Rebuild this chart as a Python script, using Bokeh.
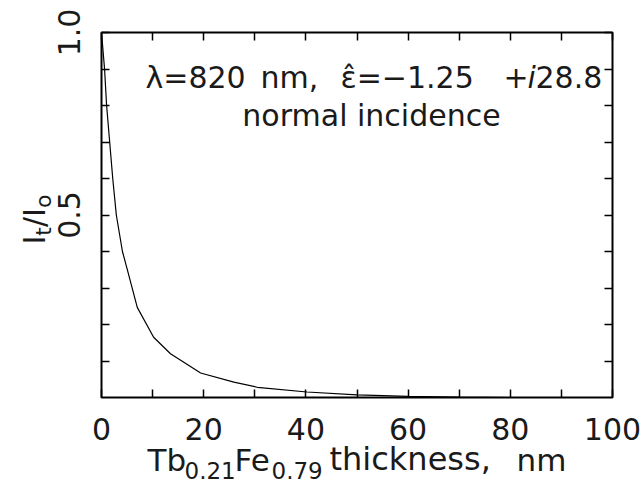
import math
from bokeh.plotting import figure
from bokeh.models import Range1d, LinearAxis, FixedTicker, Label
from bokeh.core.properties import value
from bokeh.embed import file_html
from bokeh.resources import INLINE

# ---- data ----
thickness_nm = [0, 0.6, 1.0, 1.6, 2.2, 2.9, 4.1, 5.0, 7.0, 10.2, 13.5, 19.4,
                25.9, 30.5, 40.2, 50.0, 60.0, 70.0, 80.0, 90.0, 100.0]
transmission = [1.0, 0.9, 0.8, 0.7, 0.6, 0.5, 0.4, 0.353, 0.247, 0.165, 0.12,
                0.067, 0.042, 0.028, 0.015, 0.007, 0.003, 0.001, 0.0, 0.0, 0.0]

x_major_ticks = [0, 20, 40, 60, 80, 100]
x_tick_labels = ["0", "20", "40", "60", "80", "100"]
x_minor_ticks = [10, 30, 50, 70, 90]
y_major_ticks = [0.5, 1.0]
y_tick_labels = ["0.5", "1.0"]
y_minor_ticks = [0.1, 0.2, 0.3, 0.4, 0.6, 0.7, 0.8, 0.9]

FONT = "DejaVu Sans"
INK = "#1a1a1a"
BASE_FIX = 0.345     # em offset between requested and drawn baseline

# page geometry (pixels)
W, H = 641, 484
FX0, FX1, FY0, FY1 = 101, 612, 32, 397   # frame box


def dx(px):
    return (px - FX0) / (FX1 - FX0) * 100.0


def dy(py):
    return (FY1 - py) / (FY1 - FY0)


p = figure(width=W, height=H, x_range=Range1d(0, 100), y_range=Range1d(0, 1),
           output_backend="svg", toolbar_location=None, title=None,
           min_border_left=FX0, min_border_right=W - FX1,
           min_border_top=FY0, min_border_bottom=H - FY1)
p.xgrid.visible = False
p.ygrid.visible = False
p.outline_line_color = "black"
p.outline_line_width = 2
p.background_fill_color = "white"
p.border_fill_color = "white"


def style_axis(ax, labels):
    ax.axis_line_color = None
    ax.major_tick_in = 8
    ax.major_tick_out = 0
    ax.minor_tick_in = 8
    ax.minor_tick_out = 0
    ax.major_tick_line_color = "black"
    ax.minor_tick_line_color = "black"
    ax.major_tick_line_width = 1.5
    ax.minor_tick_line_width = 1.5
    ax.major_label_text_font = FONT
    ax.major_label_text_color = INK
    if labels:
        ax.major_label_text_font_size = "30px"
    else:
        ax.major_label_text_font_size = "1px"
        ax.major_label_text_alpha = 0
        ax.major_label_standoff = 0


p.xaxis.ticker = FixedTicker(ticks=x_major_ticks, minor_ticks=x_minor_ticks)
p.yaxis.ticker = FixedTicker(ticks=y_major_ticks, minor_ticks=y_minor_ticks)
p.xaxis.major_label_overrides = dict(zip(x_major_ticks, x_tick_labels))
p.yaxis.major_label_overrides = dict(zip(y_major_ticks, y_tick_labels))
for ax in p.xaxis:
    style_axis(ax, True)
    ax.major_label_standoff = 20
for ax in p.yaxis:
    style_axis(ax, True)
    ax.major_label_orientation = "vertical"
    ax.major_label_standoff = 22

top = LinearAxis(ticker=FixedTicker(ticks=x_major_ticks, minor_ticks=x_minor_ticks))
style_axis(top, False)
p.add_layout(top, "above")
right = LinearAxis(ticker=FixedTicker(ticks=y_major_ticks, minor_ticks=y_minor_ticks))
style_axis(right, False)
p.add_layout(right, "right")

p.line(thickness_nm, transmission, line_color="black", line_width=1.2)


def piece(text, px, py, size, italic=False, align="left"):
    p.add_layout(Label(x=dx(px), y=dy(py - BASE_FIX * size), text=text,
                       text_font=FONT, text_font_size=f"{size}px",
                       text_color=INK,
                       text_font_style="italic" if italic else "normal",
                       text_align=align, text_baseline="alphabetic"))


# annotation line 1 : λ=820 nm, ε̂=−1.25 +i28.8   (baseline at page row 87)
piece("λ=820", 145, 87, 30)
piece("nm,", 260, 87, 30)
piece("ε\u0302=\u22121.25", 340, 87, 30)
piece("+", 503, 87, 30)
piece("i", 527, 87, 30, italic=True)
piece("28.8", 535, 87, 30)
# annotation line 2
piece("normal incidence", 371, 125, 30, align="center")


def strip(left, top, width, height):
    f = figure(width=width, height=height, x_range=Range1d(0, width),
               y_range=Range1d(0, height), output_backend="svg",
               toolbar_location=None, title=None, min_border=0,
               x_axis_location=None, y_axis_location=None,
               styles={"position": "absolute", "left": f"{left}px",
                       "top": f"{top}px"})
    f.xgrid.visible = False
    f.ygrid.visible = False
    f.outline_line_color = None
    f.background_fill_color = None
    f.border_fill_color = None
    return f


# y title strip overlaid on the left margin (page rows 170..290)
L_TOP, L_H, L_W = 170, 120, 58
pl = strip(0, L_TOP, L_W, L_H)
ypos = 244.0
for txt, size, adv, shift in [("I", 30, 0.295, 0), ("t", 22, 0.392, 7),
                              ("/", 30, 0.337, 0), ("I", 30, 0.295, 0),
                              ("o", 22, 0.612, 7)]:
    pl.text(x=[44 + shift - BASE_FIX * size], y=[L_TOP + L_H - ypos],
            text=[txt], angle=math.pi / 2, text_font=value(FONT),
            text_font_size=f"{size}px", text_color=INK,
            text_align="left", text_baseline="alphabetic")
    ypos -= adv * size

# x title strip overlaid on the bottom margin (page rows 440..484)
B_TOP = 440
pb = strip(0, B_TOP, W, H - B_TOP)
for txt, px, py, size in [("Tb", 147, 470, 31), ("0.21", 184, 478, 23),
                          ("Fe", 234, 470, 31), ("0.79", 271, 478, 23),
                          ("thickness,", 329, 470, 32), ("nm", 516, 470, 31)]:
    pb.text(x=[px], y=[H - py + BASE_FIX * size], text=[txt],
            text_font=value(FONT), text_font_size=f"{size}px",
            text_color=INK, text_align="left", text_baseline="alphabetic")

open("out.html", "w").write(file_html([p, pl, pb], INLINE))
